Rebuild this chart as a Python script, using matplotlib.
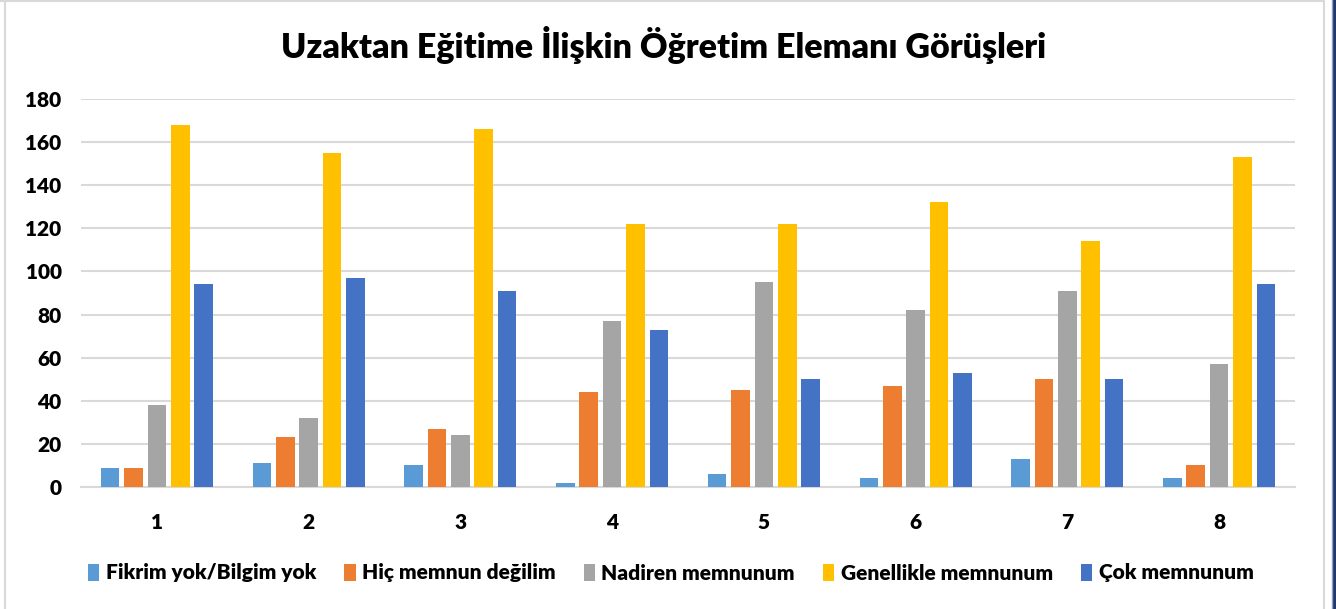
import numpy as np
import matplotlib.pyplot as plt
from matplotlib.patches import Rectangle
from matplotlib.lines import Line2D

plt.rcParams['font.family'] = ['Lato', 'DejaVu Sans']

categories = ['1', '2', '3', '4', '5', '6', '7', '8']
fikrim_yok = [9, 11, 10, 2, 6, 4, 13, 4]
hic_memnun_degil = [9, 23, 27, 44, 45, 47, 50, 10]
nadiren = [38, 32, 24, 77, 95, 82, 91, 57]
genellikle = [168, 155, 166, 122, 122, 132, 114, 153]
cok_memnun = [94, 97, 91, 73, 50, 53, 50, 94]

series = [
    ('Fikrim yok/Bilgim yok', fikrim_yok, '#5B9BD5'),
    ('Hiç memnun değilim', hic_memnun_degil, '#ED7D31'),
    ('Nadiren memnunum', nadiren, '#A5A5A5'),
    ('Genellikle memnunum', genellikle, '#FFC000'),
    ('Çok memnunum', cok_memnun, '#4472C4'),
]

fig = plt.figure(figsize=(13.36, 6.09), dpi=100)
ax = fig.add_axes([81 / 1336, 1 - 487 / 609, (1295 - 81) / 1336, (487 - 99) / 609])

x = np.arange(len(categories))
slot = 0.154
for i, (name, vals, color) in enumerate(series):
    ax.bar(x + (i - 2) * slot, vals, width=slot * 0.8, color=color, label=name, zorder=3)

ax.set_xlim(-0.5, 7.5)
ax.set_ylim(0, 180)
ax.set_yticks(range(0, 181, 20))
ax.set_xticks(x)
ax.set_xticklabels(categories)
ax.grid(axis='y', color='#D9D9D9', linewidth=1.5, zorder=0)
for s in ['top', 'right', 'left']:
    ax.spines[s].set_visible(False)
ax.spines['bottom'].set_color('#D9D9D9')
ax.spines['bottom'].set_linewidth(1.5)
ax.tick_params(length=0)
ax.tick_params(axis='y', pad=14)
ax.tick_params(axis='x', pad=19)
for lbl in ax.get_xticklabels() + ax.get_yticklabels():
    lbl.set_fontweight('heavy')
    lbl.set_fontsize(15)

fig.text(0.497, 1 - 45 / 609, 'Uzaktan Eğitime İlişkin Öğretim Elemanı Görüşleri',
         ha='center', va='center', fontsize=24.5, fontweight='heavy')

leg = fig.legend(loc='center', bbox_to_anchor=(0.502, 1 - 573 / 609), ncol=5, frameon=False,
                 prop={'weight': 'heavy', 'size': 15}, handlelength=0.55, handleheight=0.85,
                 handletextpad=0.3, columnspacing=1.35)

# chart border
fig.add_artist(Line2D([4.5 / 1336, 4.5 / 1336], [0, 1], color='#D9D9D9', lw=1.5))
fig.add_artist(Line2D([0, 1324 / 1336], [1 - 1 / 609, 1 - 1 / 609], color='#D9D9D9', lw=1.5))
fig.add_artist(Line2D([1324 / 1336, 1324 / 1336], [0, 1], color='#D9D9D9', lw=1.5))
fig.add_artist(Line2D([1331.5 / 1336, 1331.5 / 1336], [0, 1], color='#8FA0C8', lw=1))
fig.add_artist(Rectangle((1332.5 / 1336, 0), 3.5 / 1336, 1, transform=fig.transFigure,
                         color='#22386B'))

fig.savefig('out.png', dpi=100)
